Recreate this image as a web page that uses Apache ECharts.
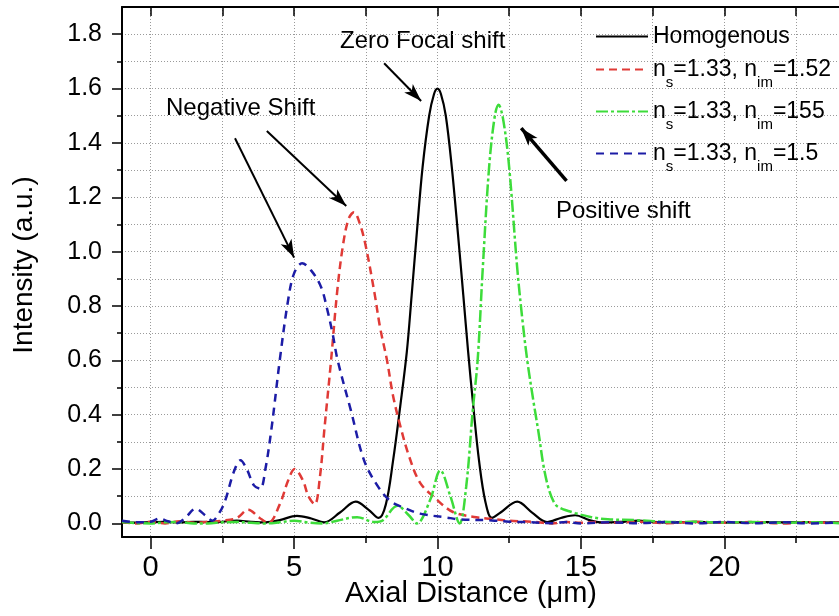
<!DOCTYPE html>
<html>
<head>
<meta charset="utf-8">
<script src="https://cdn.jsdelivr.net/npm/echarts@6/dist/echarts.min.js"></script>
<style>html,body{margin:0;padding:0;background:#fff}#c{width:839px;height:616px}</style>
</head>
<body>
<div id="c"></div>
<script>
// ---- data (axial distance in µm, intensity a.u.) ----
const homogenous = [[-1,0.004],[-0.5,0.003],[0,0.005],[0.5,0.006],[1,0.004],[1.5,0.006],[2,0.005],[2.5,0.006],[3,0.01],[3.5,0.006],[4,0.004],[4.5,0.012],[5.1,0.028],[5.6,0.018],[6.05,0.004],[6.6,0.04],[7.15,0.08],[7.6,0.05],[7.95,0.02],[8.2,0.07],[8.45,0.23],[8.7,0.43],[8.93,0.63],[9.1,0.84],[9.28,1.07],[9.48,1.31],[9.71,1.5],[9.88,1.58],[10.0,1.6],[10.12,1.58],[10.29,1.5],[10.5,1.31],[10.71,1.07],[10.9,0.84],[11.07,0.63],[11.25,0.43],[11.45,0.23],[11.67,0.08],[11.9,0.02],[12.2,0.04],[12.78,0.08],[13.3,0.04],[13.82,0.005],[14.3,0.02],[14.8,0.03],[15.3,0.012],[15.8,0.003],[16.5,0.006],[17,0.01],[17.5,0.006],[18,0.004],[19,0.006],[20,0.003],[21,0.005],[22,0.004],[23,0.005],[24,0.004]];
const ns133nim152 = [[-1,0.005],[-0.5,0.0],[0,0.006],[0.5,0.0],[1,0.008],[1.5,0.002],[2,0.006],[2.5,0.01],[3,0.02],[3.4,0.05],[3.8,0.02],[4.1,0.002],[4.5,0.07],[4.8,0.16],[5.02,0.2],[5.3,0.16],[5.5,0.1],[5.72,0.07],[5.9,0.17],[6.06,0.35],[6.29,0.6],[6.5,0.85],[6.7,1.02],[6.9,1.12],[7.09,1.145],[7.3,1.1],[7.5,1.02],[7.8,0.85],[8.0,0.72],[8.24,0.6],[8.45,0.47],[8.7,0.36],[9.0,0.25],[9.39,0.15],[9.9,0.095],[10.54,0.042],[11.35,0.023],[12,0.015],[12.5,0.01],[13.3,0.006],[14,0.0],[14.5,0.005],[15,0.002],[15.5,0.005],[16,0.002],[17,0.006],[18,0.001],[19,0.005],[20,0.002],[21,0.005],[22,0.0],[23,0.004],[24,0.002]];
const ns133nim155 = [[-1,0.005],[-0.5,0.001],[0,0.0],[0.5,0.004],[1,0.005],[1.5,0.0],[2,0.0],[2.5,0.004],[3,0.005],[3.5,0.002],[4,0.0],[4.5,0.004],[5,0.01],[5.5,0.003],[6,0.0],[6.5,0.01],[7.2,0.023],[7.8,0.005],[8.1,0.012],[8.6,0.065],[9.0,0.03],[9.28,0.0],[9.74,0.085],[10.1,0.195],[10.45,0.1],[10.77,0.0],[11.0,0.134],[11.23,0.416],[11.4,0.6],[11.58,0.94],[11.8,1.31],[12.0,1.5],[12.13,1.54],[12.3,1.48],[12.5,1.31],[12.78,0.94],[12.95,0.76],[13.13,0.6],[13.33,0.46],[13.53,0.33],[13.7,0.21],[13.87,0.13],[14.05,0.08],[14.22,0.06],[14.8,0.038],[15.37,0.023],[15.94,0.015],[16.9,0.012],[18.2,0.005],[19,0.006],[20,0.003],[21,0.005],[22,0.002],[23,0.004],[24,0.001]];
const ns133nim15 = [[-1,0.01],[-0.5,0.004],[0,0.006],[0.3,0.018],[0.6,0.008],[0.88,0.0],[1.2,0.02],[1.57,0.054],[1.9,0.03],[2.15,0.01],[2.4,0.04],[2.6,0.085],[2.9,0.19],[3.13,0.232],[3.35,0.2],[3.6,0.14],[3.82,0.128],[4.0,0.2],[4.22,0.355],[4.5,0.6],[4.79,0.82],[5.0,0.92],[5.28,0.957],[5.6,0.93],[5.94,0.87],[6.15,0.79],[6.34,0.7],[6.52,0.6],[6.98,0.416],[7.44,0.232],[7.9,0.14],[8.36,0.082],[8.82,0.058],[9.39,0.036],[10.3,0.022],[10.77,0.015],[11.9,0.011],[12.5,0.006],[13.1,0.005],[14,0.001],[14.5,0.005],[15,0.0],[16,0.004],[17,0.001],[18,0.005],[19,0.0],[20,0.005],[21,0.001],[22,0.004],[23,0.0],[24,0.004]];

const seriesNames = ['Homogenous','ns=1.33, nim=1.52','ns=1.33, nim=155','ns=1.33, nim=1.5'];
const legendRich = {
  'Homogenous': '{h|Homogenous}',
  'ns=1.33, nim=1.52': '{m|n}{sub|s}{m|=1.33, n}{sub|im}{m|=1.52}',
  'ns=1.33, nim=155': '{m|n}{sub|s}{m|=1.33, n}{sub|im}{m|=155}',
  'ns=1.33, nim=1.5': '{m|n}{sub|s}{m|=1.33, n}{sub|im}{m|=1.5}'
};

// ---- axis ticks ----
const xTickLabels = [0, 5, 10, 15, 20];
const xMajorTicks = [0, 5, 10, 15, 20];
const xAllTicks = [0, 2.5, 5, 7.5, 10, 12.5, 15, 17.5, 20, 22.5];
const yTickLabels = [0, 0.2, 0.4, 0.6, 0.8, 1.0, 1.2, 1.4, 1.6, 1.8];
const yAllTicks = [0, 0.1, 0.2, 0.3, 0.4, 0.5, 0.6, 0.7, 0.8, 0.9, 1.0, 1.1, 1.2, 1.3, 1.4, 1.5, 1.6, 1.7, 1.8];

// ---- annotations (data coords) ----
const arrows = [
  {from:[8.14,1.693], to:[9.43,1.554], w:2},
  {from:[2.94,1.417], to:[5.0,0.978], w:2},
  {from:[4.05,1.444], to:[6.82,1.168], w:2},
  {from:[14.5,1.26], to:[12.92,1.454], w:3.5}
];

const FONT = "'Liberation Sans', Arial, Helvetica, sans-serif";
const X_MIN = -1, X_MAX = 24, Y_MIN = -0.05, Y_MAX = 1.9;

const chart = echarts.init(document.getElementById('c'), null, {renderer:'canvas'});

const grid = {left:122, top:7, width:724, height:530, containLabel:false};
const dotted = {type:[1,2], color:'#9a9a9a', width:1};

const colors = ['#000000','#e03a36','#3ddc3a','#1c1ca6'];
const types = ['solid',[8,5],[12,3,3,3],[8,6]];
const widths = [2.2,2.5,2.5,2.5];
const datas = [homogenous, ns133nim152, ns133nim155, ns133nim15];

const series = datas.map((d,i)=>({
  name: seriesNames[i], type:'line', data:d, smooth:0.35, showSymbol:false, symbol:'none',
  xAxisIndex:0, yAxisIndex:0, clip:true,
  lineStyle:{color:colors[i], width:widths[i], type:types[i]},
  itemStyle:{color:colors[i]}, z: 3+i
}));
series.push({
  name:'annot', type:'line', data:[], xAxisIndex:0, yAxisIndex:0, silent:true,
  markLine:{
    silent:true, symbol:['none','arrow'], symbolSize:[9,18], animation:false,
    label:{show:false},
    data: arrows.map(a=>[{coord:a.from, lineStyle:{color:'#000', width:a.w, type:'solid'}},{coord:a.to}])
  }
});

chart.setOption({
  animation:false,
  backgroundColor:'#fff',
  grid: grid,
  legend: {
    data: seriesNames, orient:'vertical', left:595, top:25, padding:0, itemWidth:52, itemHeight:14, itemGap:1,
    selectedMode:false,
    itemStyle:{color:'rgba(0,0,0,0)', borderColor:'rgba(0,0,0,0)', borderWidth:0, opacity:0},
    formatter: n => legendRich[n],
    textStyle:{color:'#000', fontFamily:FONT, fontSize:23,
      rich:{ h:{fontSize:23, fontFamily:FONT, color:'#000', lineHeight:26},
             m:{fontSize:23, fontFamily:FONT, color:'#000', lineHeight:34},
             sub:{fontSize:15, fontFamily:FONT, color:'#000', lineHeight:34, padding:[26,0,0,0]} } }
  },
  xAxis: [
    {type:'value', min:X_MIN, max:X_MAX, position:'bottom',
      axisLine:{show:true, onZero:false, lineStyle:{color:'#000', width:2}},
      axisTick:{show:true, customValues:xAllTicks, length:6, lineStyle:{color:'#000', width:1.5}},
      axisLabel:{show:true, customValues:xTickLabels, color:'#000', fontSize:29, fontFamily:FONT, margin:16},
      splitLine:{show:true, lineStyle:dotted}},
    {type:'value', min:X_MIN, max:X_MAX, position:'bottom',
      axisLine:{show:false, onZero:false},
      axisTick:{show:true, customValues:xMajorTicks, length:12, lineStyle:{color:'#000', width:1.5}},
      axisLabel:{show:false}, splitLine:{show:false}},
    {type:'value', min:X_MIN, max:X_MAX, position:'top',
      axisLine:{show:true, onZero:false, lineStyle:{color:'#000', width:2}},
      axisTick:{show:true, inside:true, customValues:xAllTicks, length:9, lineStyle:{color:'#000', width:1.5}},
      axisLabel:{show:false}, splitLine:{show:false}}
  ],
  yAxis: [
    {type:'value', min:Y_MIN, max:Y_MAX, position:'left',
      axisLine:{show:true, onZero:false, lineStyle:{color:'#000', width:2}},
      axisTick:{show:true, customValues:yAllTicks, length:5, lineStyle:{color:'#000', width:1.5}},
      axisLabel:{show:true, customValues:yTickLabels, formatter:v=>Number(v).toFixed(1), color:'#000', fontSize:25, fontFamily:FONT, margin:20},
      splitLine:{show:true, lineStyle:dotted}},
    {type:'value', min:Y_MIN, max:Y_MAX, position:'left',
      axisLine:{show:false, onZero:false},
      axisTick:{show:true, customValues:yTickLabels, length:10, lineStyle:{color:'#000', width:1.5}},
      axisLabel:{show:false}, splitLine:{show:false}}
  ],
  graphic: [
    {type:'text', x:24, y:265, rotation:Math.PI/2, style:{text:'Intensity (a.u.)', fill:'#000', font:'28px '+FONT, textAlign:'center', textVerticalAlign:'middle'}},
    {type:'text', x:471, y:594, style:{text:'Axial Distance (\u03bcm)', fill:'#000', font:'29px '+FONT, textAlign:'center', textVerticalAlign:'middle'}},
    {type:'text', x:340, y:41, style:{text:'Zero Focal shift', fill:'#000', font:'24px '+FONT, textAlign:'left', textVerticalAlign:'middle'}},
    {type:'text', x:166, y:108, style:{text:'Negative Shift', fill:'#000', font:'24px '+FONT, textAlign:'left', textVerticalAlign:'middle'}},
    {type:'text', x:556, y:211, style:{text:'Positive shift', fill:'#000', font:'24px '+FONT, textAlign:'left', textVerticalAlign:'middle'}}
  ],
  series: series
});
</script>
</body>
</html>
